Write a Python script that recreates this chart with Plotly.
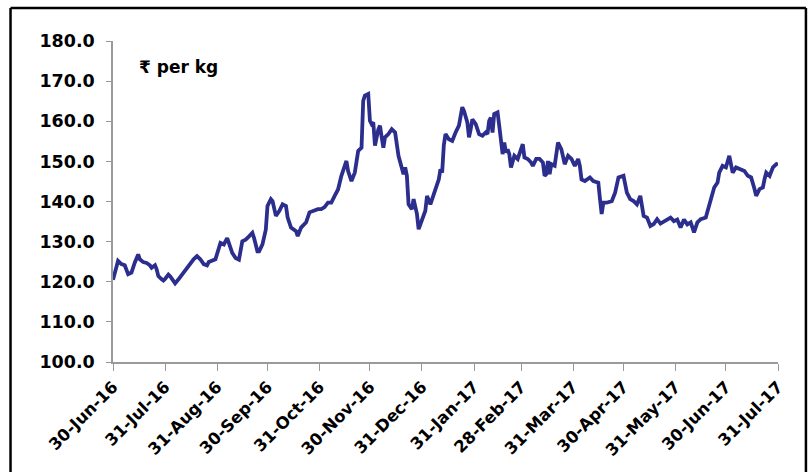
import plotly.graph_objects as go

dates = [
    "2016-06-30", "2016-07-03", "2016-07-05", "2016-07-07", "2016-07-09", "2016-07-11", "2016-07-13",
    "2016-07-15", "2016-07-16", "2016-07-18", "2016-07-20", "2016-07-22", "2016-07-23", "2016-07-25",
    "2016-07-26", "2016-07-27", "2016-07-29", "2016-07-30", "2016-07-31", "2016-08-02", "2016-08-03",
    "2016-08-05", "2016-08-06", "2016-08-08", "2016-08-11", "2016-08-14", "2016-08-17", "2016-08-19",
    "2016-08-21", "2016-08-23", "2016-08-25", "2016-08-26", "2016-08-28", "2016-08-30", "2016-09-02",
    "2016-09-04", "2016-09-06", "2016-09-07", "2016-09-09", "2016-09-11", "2016-09-13", "2016-09-15",
    "2016-09-17", "2016-09-19", "2016-09-21", "2016-09-22", "2016-09-24", "2016-09-25", "2016-09-27",
    "2016-09-29", "2016-09-30", "2016-10-02", "2016-10-03", "2016-10-05", "2016-10-07", "2016-10-09",
    "2016-10-11", "2016-10-12", "2016-10-14", "2016-10-17", "2016-10-18", "2016-10-20", "2016-10-21",
    "2016-10-23", "2016-10-25", "2016-10-28", "2016-10-30", "2016-11-01", "2016-11-03", "2016-11-05",
    "2016-11-07", "2016-11-09", "2016-11-11", "2016-11-13", "2016-11-16", "2016-11-17", "2016-11-19",
    "2016-11-21", "2016-11-23", "2016-11-25", "2016-11-26", "2016-11-27", "2016-11-29", "2016-11-30",
    "2016-12-01", "2016-12-02", "2016-12-03", "2016-12-05", "2016-12-06", "2016-12-07", "2016-12-08",
    "2016-12-09", "2016-12-11", "2016-12-13", "2016-12-15", "2016-12-17", "2016-12-19", "2016-12-20",
    "2016-12-21", "2016-12-22", "2016-12-23", "2016-12-25", "2016-12-26", "2016-12-28", "2016-12-29",
    "2016-12-31", "2017-01-02", "2017-01-03", "2017-01-05", "2017-01-07", "2017-01-10", "2017-01-11",
    "2017-01-12", "2017-01-13", "2017-01-14", "2017-01-16", "2017-01-18", "2017-01-20", "2017-01-22",
    "2017-01-24", "2017-01-25", "2017-01-27", "2017-01-28", "2017-01-29", "2017-01-30", "2017-02-01",
    "2017-02-03", "2017-02-05", "2017-02-07", "2017-02-08", "2017-02-09", "2017-02-10", "2017-02-11",
    "2017-02-12", "2017-02-14", "2017-02-15", "2017-02-16", "2017-02-17", "2017-02-18", "2017-02-19",
    "2017-02-20", "2017-02-21", "2017-02-22", "2017-02-24", "2017-02-26", "2017-03-01", "2017-03-02",
    "2017-03-04", "2017-03-06", "2017-03-07", "2017-03-09", "2017-03-11", "2017-03-13", "2017-03-14",
    "2017-03-15", "2017-03-16", "2017-03-17", "2017-03-18", "2017-03-20", "2017-03-22", "2017-03-24",
    "2017-03-26", "2017-03-28", "2017-03-30", "2017-04-01", "2017-04-03", "2017-04-04", "2017-04-05",
    "2017-04-07", "2017-04-10", "2017-04-12", "2017-04-15", "2017-04-16", "2017-04-17", "2017-04-18",
    "2017-04-20", "2017-04-23", "2017-04-25", "2017-04-27", "2017-04-30", "2017-05-02", "2017-05-04",
    "2017-05-06", "2017-05-08", "2017-05-10", "2017-05-12", "2017-05-14", "2017-05-16", "2017-05-18",
    "2017-05-20", "2017-05-22", "2017-05-24", "2017-05-26", "2017-05-28", "2017-05-30", "2017-06-01",
    "2017-06-02", "2017-06-03", "2017-06-05", "2017-06-07", "2017-06-09", "2017-06-10", "2017-06-11",
    "2017-06-13", "2017-06-15", "2017-06-18", "2017-06-21", "2017-06-23", "2017-06-25", "2017-06-26",
    "2017-06-28", "2017-06-30", "2017-07-02", "2017-07-03", "2017-07-04", "2017-07-06", "2017-07-09",
    "2017-07-11", "2017-07-13", "2017-07-15", "2017-07-17", "2017-07-18", "2017-07-20", "2017-07-22",
    "2017-07-23", "2017-07-24", "2017-07-26", "2017-07-28", "2017-07-30", "2017-07-31",
]

price = [
    120.5, 125.2, 124.4, 124.1, 121.9, 122.3, 124.8,
    126.8, 125.6, 124.9, 124.7, 124.1, 123.5, 124.1,
    123.1, 121.4, 120.6, 120.3, 120.7, 121.8, 121.4,
    120.2, 119.6, 120.6, 122.3, 123.7, 125.6, 126.4,
    125.6, 124.4, 124.1, 124.9, 125.3, 125.6, 129.7,
    129.3, 130.9, 129.7, 127.2, 125.9, 125.5, 130.1,
    130.5, 131.3, 132.2, 130.9, 127.6, 127.6, 129.3,
    133.0, 138.9, 140.6, 140.1, 136.4, 137.6, 139.3,
    138.9, 136.0, 133.5, 132.6, 131.4, 133.5, 133.9,
    134.8, 137.3, 137.7, 138.1, 138.1, 138.6, 139.7,
    139.7, 141.4, 143.0, 146.4, 150.1, 147.6, 145.1,
    147.2, 152.6, 153.4, 165.1, 166.4, 166.8, 160.1,
    159.3, 159.7, 153.9, 158.0, 158.9, 156.0, 153.4,
    156.0, 156.8, 158.0, 157.2, 151.4, 148.5, 146.8,
    148.5, 146.4, 139.3, 138.1, 140.6, 136.9, 133.1,
    135.2, 137.7, 141.4, 139.3, 141.8, 145.5, 148.0,
    147.2, 154.0, 156.8, 155.5, 155.1, 157.2, 158.9,
    163.5, 162.6, 159.7, 156.0, 158.0, 160.5, 159.3,
    156.8, 156.4, 157.2, 156.8, 160.1, 160.9, 157.2,
    161.8, 162.2, 158.9, 155.5, 151.8, 154.7, 152.2,
    153.0, 151.8, 148.5, 151.4, 150.6, 154.3, 151.0,
    150.6, 149.7, 148.9, 150.6, 150.6, 149.7, 146.4,
    146.8, 150.1, 146.8, 149.3, 148.9, 154.7, 153.0,
    149.3, 151.4, 150.6, 148.9, 150.6, 148.9, 145.5,
    145.1, 146.0, 145.1, 144.7, 140.6, 136.9, 139.7,
    139.7, 140.1, 142.2, 146.0, 146.4, 142.2, 140.6,
    140.1, 139.3, 141.4, 136.4, 136.0, 133.9, 134.4,
    135.6, 134.5, 135.1, 135.5, 136.0, 135.1, 135.5,
    134.3, 133.5, 135.5, 134.3, 134.8, 133.1, 132.3,
    134.8, 135.6, 136.0, 140.6, 143.5, 144.7, 147.2,
    148.9, 148.5, 151.4, 148.9, 147.2, 148.5, 148.1,
    147.6, 146.4, 146.0, 143.1, 141.4, 143.1, 143.5,
    145.6, 147.2, 146.4, 148.5, 149.3, 149.5,
]

tick_dates = [
    "2016-06-30", "2016-07-31", "2016-08-31", "2016-09-30", "2016-10-31", "2016-11-30", "2016-12-31",
    "2017-01-31", "2017-02-28", "2017-03-31", "2017-04-30", "2017-05-31", "2017-06-30", "2017-07-31",
]
tick_labels = [
    "30-Jun-16", "31-Jul-16", "31-Aug-16", "30-Sep-16", "31-Oct-16", "30-Nov-16", "31-Dec-16",
    "31-Jan-17", "28-Feb-17", "31-Mar-17", "30-Apr-17", "31-May-17", "30-Jun-17", "31-Jul-17",
]
y_ticks = [100, 110, 120, 130, 140, 150, 160, 170, 180]
y_labels = ["100.0", "110.0", "120.0", "130.0", "140.0", "150.0", "160.0", "170.0", "180.0"]
unit_label = "₹ per kg"

FONT = "DejaVu Sans, Noto Sans, sans-serif"

fig = go.Figure()
fig.add_trace(go.Scatter(
    x=dates, y=price, mode="lines",
    line=dict(color="#2B2E8C", width=3.8),
    showlegend=False, hoverinfo="skip",
))

fig.update_layout(
    width=811, height=472,
    margin=dict(l=113, r=33, t=41, b=110),
    paper_bgcolor="white", plot_bgcolor="white",
    xaxis=dict(
        type="date", range=[tick_dates[0], tick_dates[-1]], automargin=False,
        tickmode="array", tickvals=tick_dates, ticktext=tick_labels,
        tickangle=-45, ticks="outside", ticklen=7, tickcolor="#9a9a9a", tickwidth=1.2,
        showline=True, linecolor="#9a9a9a", linewidth=1.5,
        showgrid=False, zeroline=False,
        tickfont=dict(family=FONT, size=16.5, color="black", weight="bold"),
    ),
    yaxis=dict(
        range=[100, 180], automargin=False, tickmode="array", tickvals=y_ticks, ticktext=y_labels,
        ticks="outside", ticklen=5, tickcolor="#9a9a9a", tickwidth=1.2,
        showline=True, linecolor="#9a9a9a", linewidth=1.5,
        showgrid=False, zeroline=False, ticklabelstandoff=8,
        tickfont=dict(family=FONT, size=17.5, color="black", weight="bold"),
    ),
    annotations=[dict(
        text=unit_label, xref="paper", yref="paper", x=0.036, y=0.919,
        xanchor="left", yanchor="middle", showarrow=False,
        font=dict(family=FONT, size=17, color="black", weight="bold"),
    )],
    shapes=[
        dict(type="line", xref="paper", yref="paper", x0=-0.1541, x1=-0.1541, y0=1.1028, y1=-0.5,
             line=dict(color="black", width=2.5)),
        dict(type="line", xref="paper", yref="paper", x0=-0.1541, x1=1.042, y0=1.1028, y1=1.1028,
             line=dict(color="black", width=2.5)),
        dict(type="line", xref="paper", yref="paper", x0=1.042, x1=1.042, y0=1.1028, y1=-0.5,
             line=dict(color="black", width=2.5)),
    ],
)

fig.write_html("out.html")
